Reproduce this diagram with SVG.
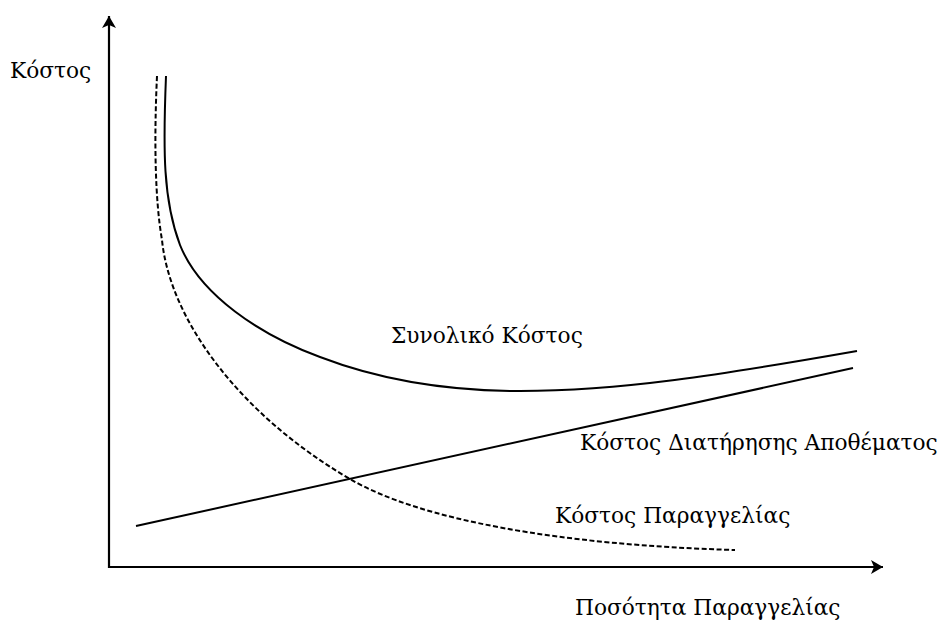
<svg xmlns="http://www.w3.org/2000/svg" width="941" height="624" viewBox="0 0 941 624">
<style>
  .ax { stroke:#000; stroke-width:2.2; fill:none; }
  .cv { stroke:#000; stroke-width:2; fill:none; }
  .dash { stroke-dasharray:5 2.5; }
  text { font-family:"DejaVu Serif","Liberation Serif",serif; font-size:21.7px; fill:#000; }
</style>
<defs>
  <marker id="arr" viewBox="0 0 12 14" refX="12" refY="7" markerWidth="12" markerHeight="14" markerUnits="userSpaceOnUse" orient="auto">
    <path d="M0,0 L12,7 L0,14 L3,7 Z" fill="#000"/>
  </marker>
</defs>
<g id="axes">
  <line class="ax" x1="109" y1="568" x2="109" y2="16" marker-end="url(#arr)"/>
  <line class="ax" x1="108" y1="567" x2="883" y2="567" marker-end="url(#arr)"/>
</g>
<g id="connectors">
  <path id="total-cost" class="cv" d="M166,76 C163,150 163,200 180,245 C200,295 260,335 320,357 C380,380 450,391 520,391 C620,391 720,375 857,351"/>
  <path id="holding-cost" class="cv" d="M136,526 L853,368"/>
  <path id="order-cost" class="cv dash" d="M157,76 C154,140 155,200 162,240 C170,320 240,415 350,479 C420,520 560,545 735,550"/>
</g>
<g id="label-y"><text x="10" y="78">Κόστος</text></g>
<g id="label-total"><text x="391" y="343">Συνολικό Κόστος</text></g>
<g id="label-holding"><text x="580" y="450">Κόστος Διατήρησης Αποθέματος</text></g>
<g id="label-order"><text x="555" y="523">Κόστος Παραγγελίας</text></g>
<g id="label-x"><text x="575" y="615">Ποσότητα Παραγγελίας</text></g>
</svg>
